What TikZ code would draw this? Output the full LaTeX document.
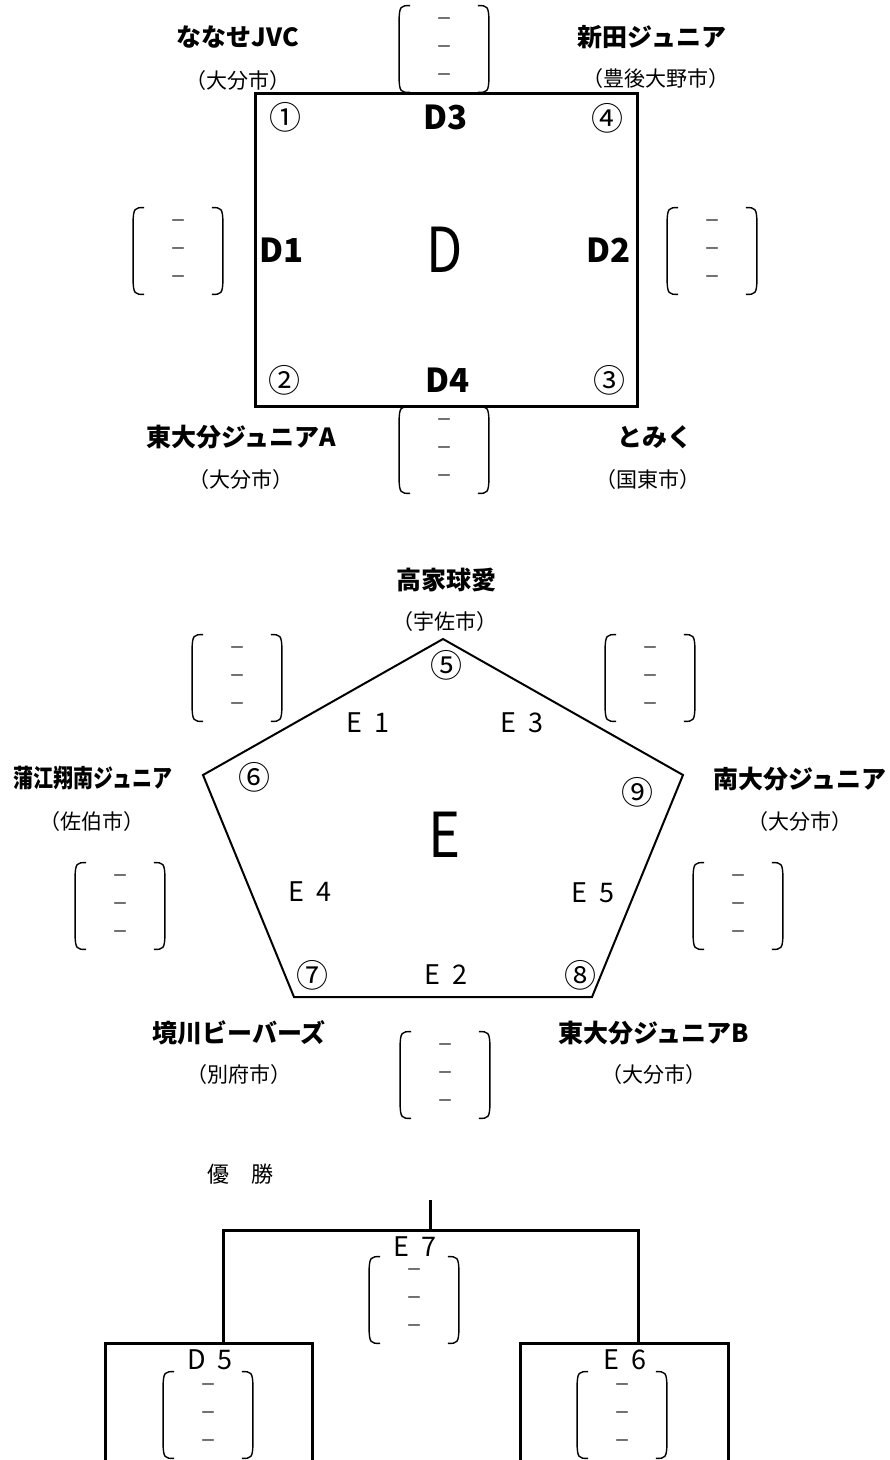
\documentclass[tikz,border=0pt]{standalone}
\usepackage{fontspec}
\setmainfont{Noto Sans CJK JP}

\newcommand{\gamefont}{\fontsize{13.5}{15}\selectfont\spaceskip=0.42em\relax}
\newcommand{\titlefont}{\fontsize{11}{13}\selectfont\spaceskip=1em\relax}

\tikzset{
  team/.style={font=\bfseries\fontsize{12.5}{14}\selectfont, inner sep=0pt},
  city/.style={font=\fontsize{10.5}{12}\selectfont, inner sep=0pt},
  num/.style={font=\fontsize{16}{18}\selectfont, inner sep=0pt},
  match/.style={font=\bfseries\fontsize{16.5}{18}\selectfont, inner sep=0pt},
  game/.style={font=\gamefont, inner sep=0pt},
  block/.style={font=\fontsize{31}{33}\selectfont, inner sep=0pt},
  score/.style={minimum width=44.5pt, minimum height=43pt, inner sep=0pt,
    align=center, font=\fontsize{8}{14}\selectfont},
  paren/.style={line width=0.7pt},
  court/.style={line width=1.5pt},
  bracket/.style={line width=1.5pt}
}

\newcommand{\scoreparens}[1]{%
  \draw [paren] ([xshift=5.5pt]#1.north west) .. controls ([xshift=1pt]#1.north west) and (#1.north west) .. ([yshift=-8pt]#1.north west)
    -- ([yshift=8pt]#1.south west) .. controls (#1.south west) and ([xshift=1pt]#1.south west) .. ([xshift=5.5pt]#1.south west);
  \draw [paren] ([xshift=-5.5pt]#1.north east) .. controls ([xshift=-1pt]#1.north east) and (#1.north east) .. ([yshift=-8pt]#1.north east)
    -- ([yshift=8pt]#1.south east) .. controls (#1.south east) and ([xshift=-1pt]#1.south east) .. ([xshift=-5.5pt]#1.south east);
}

\begin{document}
\begin{tikzpicture}[x=0.5pt, y=-0.5pt]
  \useasboundingbox (0,0) rectangle (889,1460);

  % block D
  \node [team] (nanase) at (238,37) {ななせJVC};
  \node [city] (nanaseC) at (238,81) {（大分市）};
  \node [team] (nitta) at (652,37) {新田ジュニア};
  \node [city] (nittaC) at (656,79) {（豊後大野市）};
  \node [team] (higashiA) at (241,437) {東大分ジュニアA};
  \node [city] (higashiAC) at (241,480) {（大分市）};
  \node [team] (tomiku) at (655,437) {とみく};
  \node [city] (tomikuC) at (648,480) {（国東市）};

  \draw [court] (255,94) rectangle (637,406);
  \node [num] (n1) at (285,117) {①};
  \node [num] (n4) at (607,118) {④};
  \node [num] (n2) at (284,380) {②};
  \node [num] (n3) at (609,380) {③};
  \node [match] (D3) at (446,117) {D3};
  \node [match] (D1) at (282,250) {D1};
  \node [match] (D2) at (609,250) {D2};
  \node [match] (D4) at (448,380) {D4};
  \node [block] (D) at (445,250) {\scalebox{0.85}[1]{D}};

  \node [score] (sD3) at (444,49) {－\\－\\－};
  \node [score] (sD1) at (178,251) {－\\－\\－};
  \node [score] (sD2) at (712,251) {－\\－\\－};
  \node [score] (sD4) at (444,450) {－\\－\\－};
  \scoreparens{sD3}
  \scoreparens{sD1}
  \scoreparens{sD2}
  \scoreparens{sD4}

  % block E
  \node [team] (takaie) at (446,580) {高家球愛};
  \node [city] (takaieC) at (445,622) {（宇佐市）};
  \node [team] (kamae) at (93,778) {\scalebox{0.8}[1]{蒲江翔南ジュニア}};
  \node [city] (kamaeC) at (92,822) {（佐伯市）};
  \node [team] (minami) at (800,779) {南大分ジュニア};
  \node [city] (minamiC) at (800,822) {（大分市）};
  \node [team] (sakai) at (239,1033) {境川ビーバーズ};
  \node [city] (sakaiC) at (239,1075) {（別府市）};
  \node [team] (higashiB) at (654,1033) {東大分ジュニアB};
  \node [city] (higashiBC) at (654,1075) {（大分市）};

  \coordinate (p5) at (443,639);
  \coordinate (p6) at (203,775);
  \coordinate (p7) at (294,997);
  \coordinate (p8) at (592,997);
  \coordinate (p9) at (683,775);
  \draw [line width=1pt] (p5) -- (p6) -- (p7) -- (p8) -- (p9) -- cycle;

  \node [num] (n5) at (446,665) {⑤};
  \node [num] (n6) at (254,777) {⑥};
  \node [num] (n9) at (637,792) {⑨};
  \node [num] (n7) at (312,975) {⑦};
  \node [num] (n8) at (580,975) {⑧};
  \node [game] (E1) at (368,723) {E 1};
  \node [game] (E3) at (522,723) {E 3};
  \node [game] (E4) at (310,892) {E 4};
  \node [game] (E5) at (593,893) {E 5};
  \node [game] (E2) at (446,975) {E 2};
  \node [block] (E) at (445,835) {\scalebox{0.88}[1]{E}};

  \node [score] (sE1) at (237,678) {－\\－\\－};
  \node [score] (sE3) at (650,678) {－\\－\\－};
  \node [score] (sE4) at (120,906) {－\\－\\－};
  \node [score] (sE5) at (738,906) {－\\－\\－};
  \node [score] (sE2) at (445,1075) {－\\－\\－};
  \scoreparens{sE1}
  \scoreparens{sE3}
  \scoreparens{sE4}
  \scoreparens{sE5}
  \scoreparens{sE2}

  % final round
  \node [font=\titlefont, inner sep=0pt] (champion) at (240,1174) {優 勝};
  \coordinate (top) at (430,1200);
  \coordinate (final) at (430,1230);
  \coordinate (semiL) at (223,1343);
  \coordinate (semiR) at (638,1343);
  \draw [bracket] (top) -- (final);
  \draw [bracket] (semiL) -- (semiL |- final) -- (semiR |- final) -- (semiR);
  \draw [bracket] (105,1460) -- (105,1343) -- (312,1343) -- (312,1460);
  \draw [bracket] (520,1460) -- (520,1343) -- (728,1343) -- (728,1460);

  \node [game] (E7) at (415,1247) {E 7};
  \node [game] (D5) at (210,1360) {D 5};
  \node [game] (E6) at (625,1360) {E 6};
  \node [score] (sE7) at (414,1300) {－\\－\\－};
  \node [score] (sD5) at (208,1415) {－\\－\\－};
  \node [score] (sE6) at (622,1415) {－\\－\\－};
  \scoreparens{sE7}
  \scoreparens{sD5}
  \scoreparens{sE6}
\end{tikzpicture}
\end{document}
